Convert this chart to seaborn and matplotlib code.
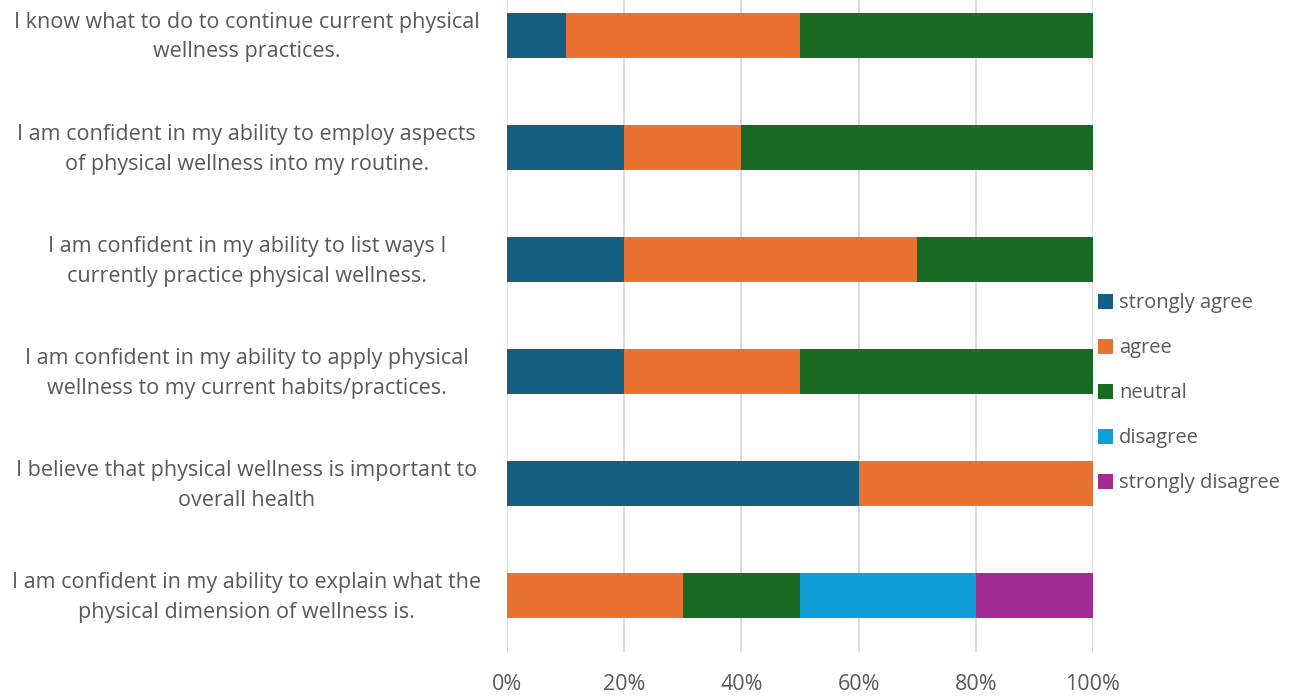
import matplotlib
matplotlib.use("Agg")
import matplotlib.pyplot as plt
import matplotlib.transforms as mtrans
import seaborn as sns
import numpy as np
import pandas as pd
from matplotlib.patches import Patch

# data (percent of respondents)
questions = [
    "I know what to do to continue current physical\nwellness practices.",
    "I am confident in my ability to employ aspects\nof physical wellness into my routine.",
    "I am confident in my ability to list ways I\ncurrently practice physical wellness.",
    "I am confident in my ability to apply physical\nwellness to my current habits/practices.",
    "I believe that physical wellness is important to\noverall health",
    "I am confident in my ability to explain what the\nphysical dimension of wellness is.",
]
strongly_agree = [10, 20, 20, 20, 60, 0]
agree = [40, 20, 50, 30, 40, 30]
neutral = [50, 60, 30, 50, 0, 20]
disagree = [0, 0, 0, 0, 0, 30]
strongly_disagree = [0, 0, 0, 0, 0, 20]

series_names = ["strongly agree", "agree", "neutral", "disagree", "strongly disagree"]
colors = ["#156082", "#E97132", "#196B24", "#0F9ED5", "#A02B93"]

df = pd.DataFrame({
    "question": questions,
    "strongly agree": strongly_agree,
    "agree": agree,
    "neutral": neutral,
    "disagree": disagree,
    "strongly disagree": strongly_disagree,
})
# cumulative share, drawn from the last segment back so earlier ones sit on top
cum = df[series_names].cumsum(axis=1) / 100.0

sns.set_style("white")
plt.rcParams["font.family"] = ["Open Sans", "DejaVu Sans"]
txt = "#595959"
fs = 15.5

fig = plt.figure(figsize=(13.01, 6.96), dpi=100)
ax = fig.add_axes([0.3897, 0.0632, 0.4504, 0.967])

for name, col in reversed(list(zip(series_names, colors))):
    sns.barplot(x=cum[name], y=df["question"], color=col, orient="h",
                width=0.4, ax=ax, saturation=1, linewidth=0, zorder=3)

ax.set_xlim(0, 1)
ax.set_ylim(len(questions) - 0.5, -0.5)
ax.set_xticks(np.arange(0, 1.01, 0.2))
ax.set_xticklabels([f"{int(round(t*100))}%" for t in np.arange(0, 1.01, 0.2)])
ax.grid(axis="x", color="#D9D9D9", lw=1.3, zorder=0)
ax.set_axisbelow(True)
for s in ax.spines.values():
    s.set_visible(False)
ax.set_xlabel("")
ax.set_ylabel("")
ax.tick_params(axis="both", length=0, colors=txt, labelsize=fs)
ax.tick_params(axis="x", pad=16)
ax.tick_params(axis="y", pad=22)
shift = mtrans.ScaledTranslation(0, 5 / 100, fig.dpi_scale_trans)
for lab in ax.get_yticklabels():
    lab.set_horizontalalignment("center")
    lab.set_linespacing(1.55)
    lab.set_x(-0.392)
    lab.set_transform(lab.get_transform() + shift)

handles = [Patch(facecolor=c, edgecolor="none", label=n) for n, c in zip(series_names, colors)]
leg = fig.legend(handles=handles, loc="center left", bbox_to_anchor=(0.83, 0.435),
                 frameon=False, fontsize=14.5, labelcolor=txt, handlelength=0.75,
                 handleheight=0.75, handletextpad=0.3, labelspacing=1.24)

fig.savefig("out.png", dpi=100)
